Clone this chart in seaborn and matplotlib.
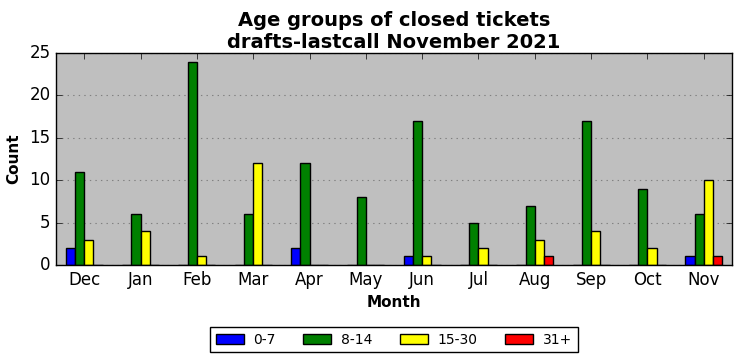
import pandas as pd
import seaborn as sns
import matplotlib.pyplot as plt

months = ["Dec", "Jan", "Feb", "Mar", "Apr", "May", "Jun", "Jul", "Aug", "Sep", "Oct", "Nov"]
groups = ["0-7", "8-14", "15-30", "31+"]
age_0_7 = [2, 0, 0, 0, 2, 0, 1, 0, 0, 0, 0, 1]
age_8_14 = [11, 6, 24, 6, 12, 8, 17, 5, 7, 17, 9, 6]
age_15_30 = [3, 4, 1, 12, 0, 0, 1, 2, 3, 4, 2, 10]
age_31 = [0, 0, 0, 0, 0, 0, 0, 0, 1, 0, 0, 1]
colors = ["blue", "green", "yellow", "red"]

rows = []
for g, vals in zip(groups, [age_0_7, age_8_14, age_15_30, age_31]):
    for m, v in zip(months, vals):
        rows.append({"Month": m, "Group": g, "Count": v})
df = pd.DataFrame(rows)

plt.style.use("classic")
fig = plt.figure(figsize=(7.42, 3.61), dpi=100)
ax = fig.add_axes([0.0755, 0.266, 0.911, 0.587])
ax.set_facecolor("#bfbfbf")

sns.barplot(data=df, x="Month", y="Count", hue="Group", order=months, hue_order=groups,
            palette=colors, saturation=1, width=0.66, edgecolor="black", linewidth=1,
            errorbar=None, ax=ax)

ax.set_xlim(-0.5, 11.5)
ax.set_ylim(0, 25)
ax.set_yticks([0, 5, 10, 15, 20, 25])
ax.yaxis.grid(True, linestyle=":", color="#808080", linewidth=0.8)
ax.set_axisbelow(True)
ax.tick_params(axis="both", labelsize=12)
ax.set_xlabel("Month", fontsize=11, fontweight="bold")
ax.set_ylabel("Count", fontsize=11, fontweight="bold", labelpad=6)
ax.set_title("Age groups of closed tickets\ndrafts-lastcall November 2021",
             fontsize=14, fontweight="bold", y=0.99)

handles, labels = ax.get_legend_handles_labels()
ax.legend(handles, labels, loc="upper center", bbox_to_anchor=(0.5, -0.26), ncol=4,
          fontsize=10, fancybox=False, handlelength=2.0, handletextpad=0.7,
          columnspacing=2.0)

fig.savefig("out.png", dpi=100, facecolor="white")
